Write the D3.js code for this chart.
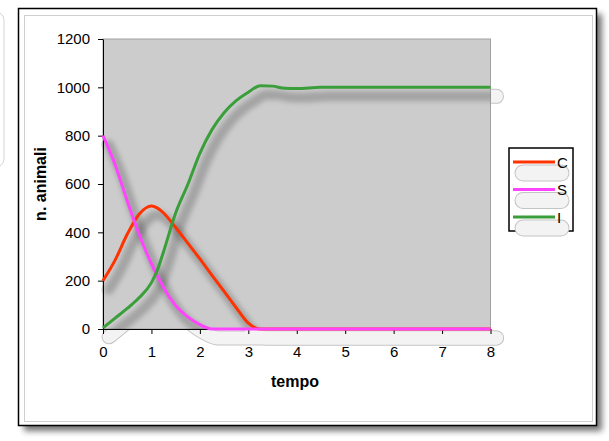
<!DOCTYPE html>
<html>
<head>
<meta charset="utf-8">
<script src="https://cdn.jsdelivr.net/npm/d3@7"></script>
<style>
  body { margin: 0; background: #fff; }
  svg { display: block; font-family: "Liberation Sans", Arial, sans-serif; }
  .axis path, .axis line { stroke: #000; }
  .axis text { font-size: 15px; fill: #000; }
</style>
</head>
<body>
<svg width="609" height="441"></svg>
<script>
// data
let tempo  = [0, 0.25, 0.5, 0.75, 1, 1.125, 1.25, 1.5, 1.75, 2, 2.25, 2.5, 2.75, 3, 3.25, 3.5, 3.75, 4, 4.5, 5, 6, 7, 8];
let serieC = [200, 285, 392, 476, 509, 500, 480, 420, 355, 290, 222, 156, 88, 24, 0, 0, 0, 0, 0, 0, 0, 0, 0];
let serieS = [800, 680, 530, 390, 270, 220, 172, 97, 50, 18, 0, 0, 0, 0, 0, 0, 0, 0, 0, 0, 0, 0, 0];
let serieI = [5, 45, 85, 130, 192, 245, 320, 480, 598, 727, 825, 895, 945, 980, 1007, 1005, 996, 995, 1000, 1000, 1000, 1000, 1000];
let xTicks = [0, 1, 2, 3, 4, 5, 6, 7, 8];
let yTicks = [0, 200, 400, 600, 800, 1000, 1200];
let nomi   = ["C", "S", "I"];
let colori = ["#ff3300", "#ff44ff", "#3a9e3a"];

let series = [serieC, serieS, serieI].map(function(v, i) {
    return { nome: nomi[i], colore: colori[i], punti: tempo.map(function(t, j) { return [t, v[j]]; }) };
});

let svg = d3.select("svg"),
    margin = {top: 39, left: 103},
    width = 387.5,
    height = 290;

let defs = svg.append("defs");
defs.append("filter").attr("id", "blur3").attr("x", "-20%").attr("y", "-20%").attr("width", "140%").attr("height", "140%")
    .append("feGaussianBlur").attr("stdDeviation", 3);
defs.append("filter").attr("id", "blur2")
    .append("feGaussianBlur").attr("stdDeviation", 2.5);
defs.append("clipPath").attr("id", "plotclip")
    .append("rect").attr("width", width).attr("height", height);

// stray rounded box at the left edge
svg.append("rect")
    .attr("x", -20).attr("y", 12).attr("width", 24).attr("height", 155).attr("rx", 8)
    .attr("fill", "none").attr("stroke", "#d4d4d4");

// chart frame with its shadow
svg.append("rect")
    .attr("x", 24).attr("y", 14).attr("width", 578).attr("height", 417)
    .attr("fill", "#000").attr("opacity", 0.55).attr("filter", "url(#blur3)");
svg.append("rect")
    .attr("x", 18.5).attr("y", 8.5).attr("width", 578).attr("height", 417)
    .attr("fill", "#fff").attr("stroke", "#000").attr("stroke-width", 1.5);
svg.append("rect")
    .attr("x", 24.5).attr("y", 15.5).attr("width", 568).attr("height", 406)
    .attr("fill", "none").attr("stroke", "#cfcfcf");

let x = d3.scaleLinear().domain([0, 8]).range([0, width]);
let y = d3.scaleLinear().domain([0, 1200]).range([height, 0]);

let line = d3.line()
    .x(function(d) { return x(d[0]); })
    .y(function(d) { return y(d[1]); })
    .curve(d3.curveMonotoneX);

let focus = svg.append("g")
    .attr("transform", "translate(" + margin.left + "," + margin.top + ")");

// shadow blobs that spill outside the plot area
let fuori = focus.append("g").attr("transform", "translate(6,9)");
fuori.selectAll("path.o1").data(series).enter().append("path")
    .attr("d", function(d) { return line(d.punti); })
    .attr("fill", "none").attr("stroke", "#c4c4c4").attr("stroke-width", 15)
    .attr("stroke-linecap", "round").attr("stroke-linejoin", "round");
fuori.selectAll("path.o2").data(series).enter().append("path")
    .attr("d", function(d) { return line(d.punti); })
    .attr("fill", "none").attr("stroke", "#f3f3f3").attr("stroke-width", 13)
    .attr("stroke-linecap", "round").attr("stroke-linejoin", "round");

// plot area
focus.append("rect")
    .attr("width", width).attr("height", height)
    .attr("fill", "#cccccc").attr("stroke", "#a0a0a0");

// soft shadows inside the plot
focus.append("g").attr("clip-path", "url(#plotclip)")
  .append("g").attr("transform", "translate(6,9)")
    .selectAll("path").data(series).enter().append("path")
    .attr("d", function(d) { return line(d.punti); })
    .attr("fill", "none").attr("stroke", "#000").attr("stroke-opacity", 0.2)
    .attr("stroke-width", 10).attr("stroke-linecap", "round")
    .attr("filter", "url(#blur2)");

focus.append("g")
    .attr("class", "axis axis--x")
    .attr("transform", "translate(0," + height + ")")
    .call(d3.axisBottom(x).tickValues(xTicks).tickSize(5).tickSizeOuter(0).tickPadding(12).tickFormat(d3.format("d")));

focus.append("g")
    .attr("class", "axis axis--y")
    .call(d3.axisLeft(y).tickValues(yTicks).tickSize(5).tickSizeOuter(0).tickPadding(8).tickFormat(d3.format("d")));

focus.selectAll("path.serie").data(series).enter().append("path")
    .attr("class", "serie")
    .attr("d", function(d) { return line(d.punti); })
    .attr("fill", "none")
    .attr("stroke", function(d) { return d.colore; })
    .attr("stroke-width", 3)
    .attr("stroke-linejoin", "round");

// axis titles
svg.append("text")
    .attr("x", 295).attr("y", 387)
    .attr("text-anchor", "middle")
    .style("font-size", "16px").style("font-weight", "bold")
    .text("tempo");

svg.append("text")
    .attr("transform", "translate(46,184) rotate(-90)")
    .attr("text-anchor", "middle")
    .style("font-size", "16px").style("font-weight", "bold")
    .text("n. animali");

// legend
let legend = svg.append("g").attr("transform", "translate(509,148)");
legend.append("rect")
    .attr("width", 64).attr("height", 83)
    .attr("fill", "#fff").attr("stroke", "#000").attr("stroke-width", 1.5);
let voce = legend.selectAll("g.voce").data(series).enter().append("g")
    .attr("class", "voce")
    .attr("transform", function(d, i) { return "translate(0," + (14 + i * 27.5) + ")"; });
voce.append("line")
    .attr("x1", 14).attr("x2", 52).attr("y1", 11).attr("y2", 11)
    .attr("stroke", "#c4c4c4").attr("stroke-width", 17).attr("stroke-linecap", "round");
voce.append("line")
    .attr("x1", 14).attr("x2", 52).attr("y1", 11).attr("y2", 11)
    .attr("stroke", "#f3f3f3").attr("stroke-width", 15).attr("stroke-linecap", "round");
voce.append("line")
    .attr("x1", 4).attr("x2", 46).attr("y1", 0).attr("y2", 0)
    .attr("stroke", function(d) { return d.colore; }).attr("stroke-width", 3);
voce.append("text")
    .attr("x", 48).attr("y", 5.5)
    .style("font-size", "15px")
    .text(function(d) { return d.nome; });
</script>
</body>
</html>
